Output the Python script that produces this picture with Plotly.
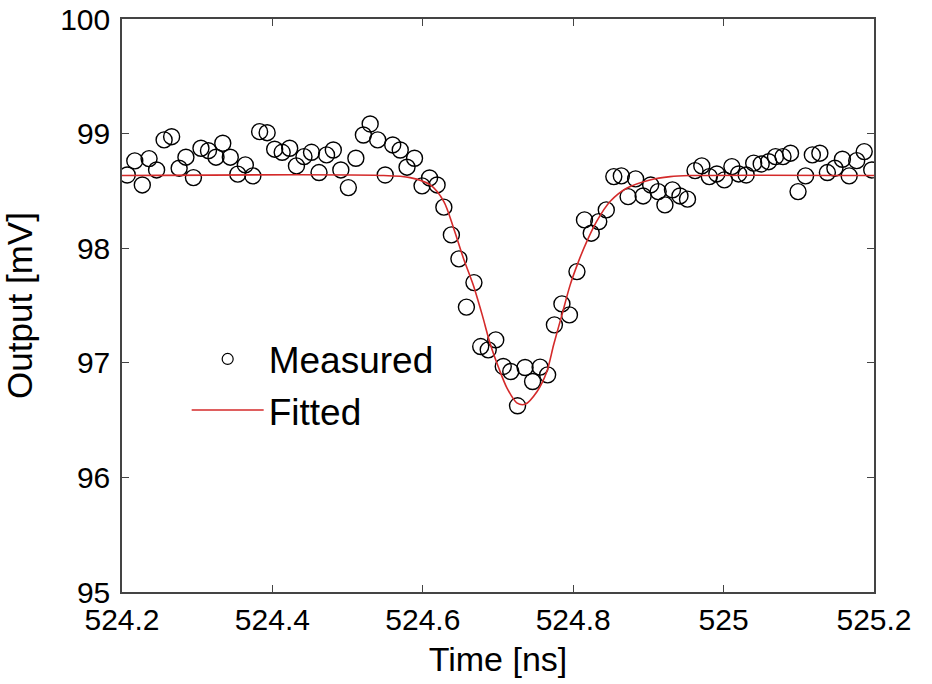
import plotly.graph_objects as go

# Measured samples (time in ns, output in mV)
time_ns = [
    524.207, 524.217, 524.227, 524.236, 524.246, 524.256, 524.266, 524.276, 524.285, 524.295,
    524.305, 524.315, 524.325, 524.334, 524.344, 524.354, 524.364, 524.374, 524.383, 524.393,
    524.403, 524.413, 524.423, 524.432, 524.442, 524.452, 524.462, 524.472, 524.481, 524.491,
    524.501, 524.511, 524.521, 524.530, 524.540, 524.550, 524.560, 524.570, 524.579, 524.589,
    524.599, 524.609, 524.619, 524.628, 524.638, 524.648, 524.658, 524.668, 524.677, 524.687,
    524.697, 524.707, 524.717, 524.726, 524.736, 524.746, 524.756, 524.766, 524.775, 524.785,
    524.795, 524.805, 524.815, 524.824, 524.834, 524.844, 524.854, 524.864, 524.873, 524.883,
    524.893, 524.903, 524.913, 524.922, 524.932, 524.942, 524.952, 524.962, 524.971, 524.981,
    524.991, 525.001, 525.011, 525.020, 525.030, 525.040, 525.050, 525.060, 525.069, 525.079,
    525.089, 525.099, 525.109, 525.118, 525.128, 525.138, 525.148, 525.158, 525.167, 525.177,
    525.187, 525.197,
]
measured_mv = [
    98.639, 98.762, 98.552, 98.782, 98.683, 98.945, 98.973, 98.698, 98.794, 98.616,
    98.872, 98.851, 98.794, 98.916, 98.794, 98.646, 98.727, 98.631, 99.017, 99.008,
    98.864, 98.837, 98.872, 98.718, 98.799, 98.837, 98.660, 98.814, 98.857, 98.683,
    98.529, 98.785, 98.988, 99.084, 98.945, 98.639, 98.901, 98.857, 98.707, 98.785,
    98.544, 98.613, 98.552, 98.358, 98.116, 97.907, 97.486, 97.700, 97.142, 97.113,
    97.200, 96.968, 96.924, 96.625, 96.959, 96.837, 96.962, 96.895, 97.331, 97.514,
    97.418, 97.796, 98.247, 98.131, 98.232, 98.334, 98.625, 98.631, 98.450, 98.605,
    98.456, 98.552, 98.494, 98.378, 98.509, 98.456, 98.428, 98.677, 98.718, 98.625,
    98.648, 98.596, 98.712, 98.648, 98.639, 98.742, 98.735, 98.755, 98.799, 98.799,
    98.829, 98.494, 98.631, 98.814, 98.829, 98.660, 98.698, 98.776, 98.631, 98.764,
    98.843, 98.683,
]

# Fitted curve
fit_time = [
    524.200, 524.543, 524.583, 524.610, 524.628, 524.641, 524.654, 524.667, 524.679, 524.690,
    524.701, 524.712, 524.725, 524.736, 524.752, 524.765, 524.774, 524.785, 524.796, 524.807,
    524.818, 524.831, 524.849, 524.871, 524.902, 524.929, 524.955, 525.200,
]
fit_mv = [
    98.635, 98.635, 98.616, 98.552, 98.407, 98.175, 97.913, 97.681, 97.418, 97.157,
    96.954, 96.779, 96.651, 96.638, 96.750, 96.924, 97.157, 97.418, 97.680, 97.883,
    98.058, 98.232, 98.407, 98.523, 98.596, 98.625, 98.634, 98.635,
]

x_ticks = [524.2, 524.4, 524.6, 524.8, 525.0, 525.2]
x_labels = ["524.2", "524.4", "524.6", "524.8", "525", "525.2"]
y_ticks = [95, 96, 97, 98, 99, 100]

red = "#d42a2a"
font = "Liberation Sans, Arial, sans-serif"

fig = go.Figure()

fig.add_trace(go.Scatter(
    x=time_ns, y=measured_mv, mode="markers", showlegend=False,
    marker=dict(symbol="circle-open", size=16, color="black", line=dict(width=1.4)),
))
fig.add_trace(go.Scatter(
    x=fit_time, y=fit_mv, mode="lines", showlegend=False,
    line=dict(color=red, width=1.6, shape="spline", smoothing=0.8),
))

# legend entries (smaller legend marker as in the original)
fig.add_trace(go.Scatter(
    x=[None], y=[None], mode="markers", name="Measured",
    marker=dict(symbol="circle-open", size=11, color="black", line=dict(width=1.2)),
))
fig.add_trace(go.Scatter(
    x=[None], y=[None], mode="lines", name="Fitted",
    line=dict(color=red, width=1.6),
))

axis_common = dict(
    showgrid=False, zeroline=False, showline=True, linecolor="#444444", linewidth=1.5,
    mirror="ticks", ticks="inside", ticklen=7, tickcolor="#444444", tickwidth=1.3,
    tickfont=dict(family=font, size=30, color="black"), automargin=False,
    ticklabeloverflow="allow",
)

fig.update_layout(
    width=932, height=684,
    margin=dict(l=122, r=58, t=19, b=92, autoexpand=False),
    paper_bgcolor="white", plot_bgcolor="white",
    font=dict(family=font, color="black"),
    xaxis=dict(
        range=[524.2, 525.2], tickvals=x_ticks, ticktext=x_labels,
        title=dict(text="Time [ns]", font=dict(size=34), standoff=12),
        **axis_common,
    ),
    yaxis=dict(
        range=[95, 100], tickvals=y_ticks, ticklabelstandoff=4,
        title=dict(text="Output [mV]", font=dict(size=35), standoff=20),
        **axis_common,
    ),
    legend=dict(
        x=0.086, y=0.46, xanchor="left", yanchor="top",
        bgcolor="rgba(0,0,0,0)", font=dict(family=font, size=37, color="black"),
        itemwidth=72, tracegroupgap=0,
    ),
)

# drop the default page margin so the figure fills the window exactly
fig.write_html("out.html", config={"displayModeBar": False},
               post_script="document.body.style.margin='0';document.body.style.overflow='hidden';")
